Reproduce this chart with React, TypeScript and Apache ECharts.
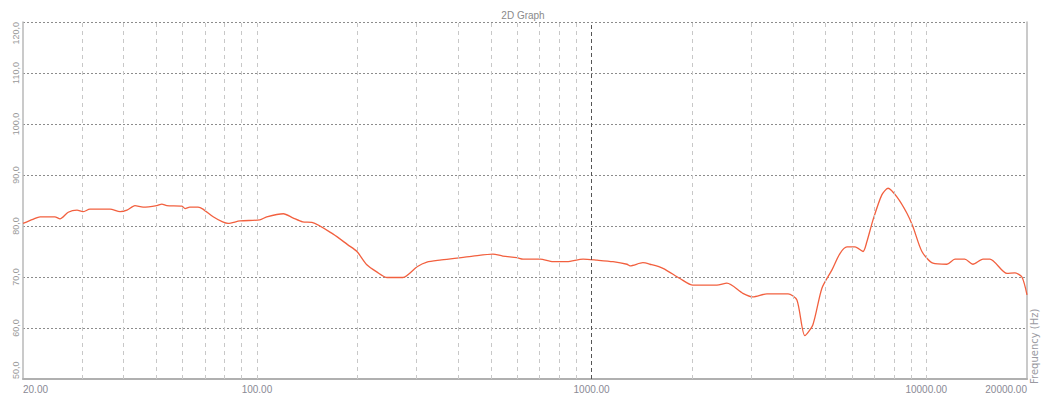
import React, { useEffect, useRef } from "react";
import * as echarts from "echarts";

// Frequency response: frequency (Hz) and level (dB)
const frequencies = [
  20, 21.4, 22.5, 24.9, 25.8, 27.3, 29, 30.2, 31.7, 36.4, 39, 40.9, 43.2, 45.7, 50.2, 52, 53.8, 59.7, 61, 63,
  66.7, 69, 74, 79, 82, 89, 102, 107, 120, 128, 137, 146, 169, 187, 199, 213, 228, 245, 273, 301,
  322, 352, 396, 442, 507, 543, 598, 624, 702, 767, 844, 943, 1038, 1159, 1276, 1303, 1423, 1494, 1634, 1837,
  2009, 2368, 2537, 2832, 3034, 3343, 3863, 4107, 4338, 4582, 4878, 5227, 5522, 5796, 6126, 6472, 6645, 6933, 7366, 7687,
  8171, 8755, 9122, 9705, 10472, 11526, 12186, 13033, 13782, 14774, 15498, 17418, 18408, 19314, 20000,
];
const levels = [
  80.5, 81.3, 81.8, 81.8, 81.4, 82.7, 83.1, 82.8, 83.3, 83.3, 82.8, 83.1, 84.0, 83.7, 84.0, 84.3, 84.0, 83.9, 83.4, 83.7,
  83.7, 83.3, 81.8, 80.8, 80.5, 81.0, 81.2, 81.8, 82.4, 81.6, 80.8, 80.7, 78.4, 76.3, 75.0, 72.4, 71.0, 69.9, 69.9, 72.0,
  72.9, 73.3, 73.7, 74.1, 74.5, 74.1, 73.8, 73.5, 73.5, 73.0, 73.0, 73.5, 73.3, 73.0, 72.5, 72.2, 72.8, 72.5, 71.7, 69.7,
  68.4, 68.4, 68.8, 66.8, 66.1, 66.7, 66.7, 65.5, 58.5, 60.6, 67.8, 71.4, 74.6, 75.9, 75.9, 75.0, 76.9, 81.2, 86.1, 87.4,
  85.7, 82.5, 79.9, 75.0, 72.7, 72.5, 73.5, 73.5, 72.5, 73.5, 73.5, 70.7, 70.8, 70.0, 66.5,
];

// Vertical grid positions on the logarithmic frequency axis
const minorGridFreqs = [
  30, 40, 50, 60, 70, 80, 90, 100, 200, 300, 400, 500, 600, 700, 800, 900,
  2000, 3000, 4000, 5000, 6000, 7000, 8000, 9000, 10000,
];
const majorGridFreqs = [1000];

const FREQ_MIN = 20;
const FREQ_MAX = 20000;
const LEVEL_MIN = 50;
const LEVEL_MAX = 120;
const LEVEL_STEP = 10;

const NUM_FONT = "'Liberation Sans Narrow', 'Liberation Sans', Arial, sans-serif";

export default function App() {
  const ref = useRef<HTMLDivElement>(null);

  useEffect(() => {
    if (!ref.current) return;
    const chart = echarts.init(ref.current, undefined, { renderer: "svg" });
    const points = frequencies.map((f, i) => [f, levels[i]]);

    chart.setOption({
      animation: false,
      backgroundColor: "#ffffff",
      title: {
        text: "2D Graph",
        left: "center",
        top: 5,
        textStyle: { fontSize: 10, fontWeight: "normal", color: "#8a8a8a", fontFamily: NUM_FONT },
      },
      grid: { left: 23, right: 19, top: 22, bottom: 15 },
      xAxis: {
        type: "log",
        logBase: 10,
        min: FREQ_MIN,
        max: FREQ_MAX,
        axisLine: { show: true, lineStyle: { color: "#b0b0b0", width: 2 } },
        axisTick: { show: false },
        splitLine: { show: false },
        axisLabel: {
          color: "#8a8a95",
          fontSize: 10,
          fontFamily: NUM_FONT,
          margin: 5,
          alignMinLabel: "left",
          alignMaxLabel: "right",
          showMinLabel: true,
          showMaxLabel: true,
          formatter: (v: number) => v.toFixed(2),
        },
      },
      yAxis: [
        {
          type: "value",
          min: LEVEL_MIN,
          max: LEVEL_MAX,
          interval: LEVEL_STEP,
          axisLine: { show: true, lineStyle: { color: "#b8b8b8", width: 1.5 } },
          axisTick: { show: false },
          splitLine: { show: true, lineStyle: { color: "#8c8c8c", type: [2, 2], width: 1 } },
          axisLabel: {
            rotate: 90,
            margin: 3,
            color: "#999999",
            fontSize: 9,
            fontFamily: "'Liberation Sans', Arial, sans-serif",
            alignMinLabel: "left",
            alignMaxLabel: "right",
            formatter: (v: number) => v.toFixed(1).replace(".", ","),
          },
        },
        {
          type: "value",
          position: "right",
          min: LEVEL_MIN,
          max: LEVEL_MAX,
          axisLine: { show: true, lineStyle: { color: "#b8b8b8", width: 1.5 } },
          axisTick: { show: false },
          axisLabel: { show: false },
          splitLine: { show: false },
        },
      ],
      graphic: [
        {
          type: "text",
          x: 1034,
          y: 384,
          rotation: Math.PI / 2,
          style: {
            text: "Frequency (Hz)",
            fill: "#9a9aa2",
            fontSize: 10,
            fontFamily: "'DejaVu Sans', sans-serif",
            align: "left",
            verticalAlign: "middle",
          },
        },
      ],
      series: [
        {
          type: "line",
          data: [],
          silent: true,
          z: 1,
          markLine: {
            silent: true,
            symbol: "none",
            label: { show: false },
            data: [
              ...minorGridFreqs.map((f) => ({
                xAxis: f,
                lineStyle: { color: "#c8c8c8", type: [4, 4], width: 1 },
              })),
              ...majorGridFreqs.map((f) => ({
                xAxis: f,
                lineStyle: { color: "#555555", type: [4, 3], width: 1 },
              })),
            ],
          },
        },
        {
          type: "line",
          data: points,
          z: 3,
          symbol: "none",
          smooth: 0.25,
          lineStyle: { color: "#f2603f", width: 1.3 },
        },
      ],
    });

    return () => chart.dispose();
  }, []);

  return (
    <div
      ref={ref}
      style={{ position: "fixed", left: 0, top: 0, width: 1046, height: 394 }}
    />
  );
}
